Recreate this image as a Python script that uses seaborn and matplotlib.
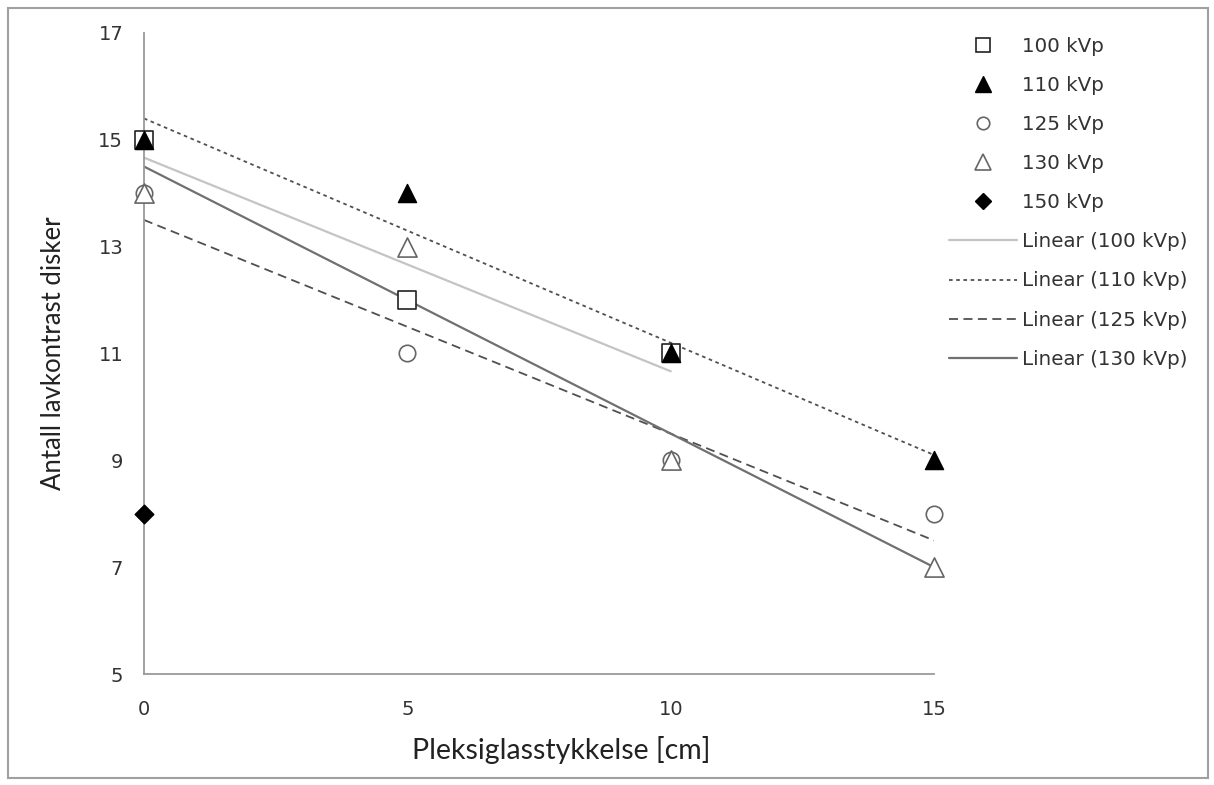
import numpy as np
import pandas as pd
import matplotlib
matplotlib.use("Agg")
import matplotlib.pyplot as plt
from matplotlib.lines import Line2D
from matplotlib.patches import Rectangle
import seaborn as sns

sns.set_style("white")
plt.rcParams['font.family'] = ['Lato', 'DejaVu Sans']

# Data
x_100 = [0, 5, 10]
y_100 = [15, 12, 11]
x_110 = [0, 5, 10, 15]
y_110 = [15, 14, 11, 9]
x_125 = [0, 5, 10, 15]
y_125 = [14, 11, 9, 8]
x_130 = [0, 5, 10, 15]
y_130 = [14, 13, 9, 7]
x_150 = [0]
y_150 = [8]

labels = ["100 kVp", "110 kVp", "125 kVp", "130 kVp", "150 kVp"]
x_ticks = [0, 5, 10, 15]
y_ticks = [5, 7, 9, 11, 13, 15, 17]

fig = plt.figure(figsize=(12.14, 7.85), dpi=100)
ax = fig.add_axes([0.1186, 0.1414, 0.6508, 0.8166])

# Trendlines
trend_styles = [
    (x_100, y_100, dict(color="#c4c4c4", lw=1.6, ls="-")),
    (x_110, y_110, dict(color="#505050", lw=1.3, ls=(0, (2, 2)))),
    (x_125, y_125, dict(color="#505050", lw=1.3, ls=(0, (5, 3)))),
    (x_130, y_130, dict(color="#707070", lw=1.6, ls="-")),
]
for xs, ys, st in trend_styles:
    sns.regplot(x=np.array(xs, float), y=np.array(ys, float), ax=ax, scatter=False,
                ci=None, truncate=True, line_kws=st)

# Markers
marker_styles = [
    (x_100, y_100, dict(marker="s", facecolor="white", edgecolor="#222222", s=150, linewidth=1.2)),
    (x_110, y_110, dict(marker="^", facecolor="black", edgecolor="black", s=170, linewidth=1.0)),
    (x_125, y_125, dict(marker="o", facecolor="white", edgecolor="#666666", s=140, linewidth=1.2)),
    (x_130, y_130, dict(marker="^", facecolor="white", edgecolor="#666666", s=190, linewidth=1.2)),
    (x_150, y_150, dict(marker="D", facecolor="black", edgecolor="black", s=90, linewidth=1.0)),
]
for (xs, ys, st), lab in zip(marker_styles, labels):
    sns.scatterplot(x=xs, y=ys, ax=ax, zorder=5, clip_on=False, legend=False, **st)

ax.set_xlim(0, 15)
ax.set_ylim(5, 17)
ax.set_xticks(x_ticks)
ax.set_yticks(y_ticks)
for s in ["top", "right"]:
    ax.spines[s].set_visible(False)
for s in ["left", "bottom"]:
    ax.spines[s].set_color("#9a9a9a")
    ax.spines[s].set_linewidth(1.3)
ax.tick_params(axis="both", which="major", length=6, width=1.2, color="#9a9a9a",
               labelsize=14, labelcolor="#333333", direction="out", pad=9)
ax.tick_params(axis="x", pad=13)
for t in ax.get_xticklabels() + ax.get_yticklabels():
    t.set_fontfamily("DejaVu Sans")
ax.set_xlabel("Pleksiglasstykkelse [cm]", fontsize=20.5, color="#222222")
ax.set_ylabel("Antall lavkontrast disker", fontsize=18.5, color="#222222")
ax.xaxis.set_label_coords(0.528, -0.096)
ax.yaxis.set_label_coords(-0.099, 0.5)

# Legend
handles = [
    Line2D([], [], ls="none", marker="s", mfc="white", mec="#222222", ms=10, mew=1.2),
    Line2D([], [], ls="none", marker="^", mfc="black", mec="black", ms=11),
    Line2D([], [], ls="none", marker="o", mfc="white", mec="#666666", ms=9, mew=1.2),
    Line2D([], [], ls="none", marker="^", mfc="white", mec="#666666", ms=11, mew=1.2),
    Line2D([], [], ls="none", marker="D", mfc="black", mec="black", ms=8),
    Line2D([], [], color="#c4c4c4", lw=1.6, ls="-"),
    Line2D([], [], color="#505050", lw=1.3, ls=(0, (2, 2))),
    Line2D([], [], color="#505050", lw=1.3, ls=(0, (5, 3))),
    Line2D([], [], color="#707070", lw=1.6, ls="-"),
]
leg_labels = labels + ["Linear (100 kVp)", "Linear (110 kVp)", "Linear (125 kVp)", "Linear (130 kVp)"]
fig.legend(handles, leg_labels, loc="upper left", bbox_to_anchor=(0.767, 0.9755),
           frameon=False, prop={"family": "DejaVu Sans", "size": 14.3},
           labelspacing=1.01, handlelength=3.4, handletextpad=0.3, labelcolor="#333333")

fig.patches.append(Rectangle((0.007, 0.009), 0.988, 0.981, transform=fig.transFigure,
                             fill=False, edgecolor="#a0a0a0", linewidth=1.5))

fig.savefig("out.png", dpi=100)
